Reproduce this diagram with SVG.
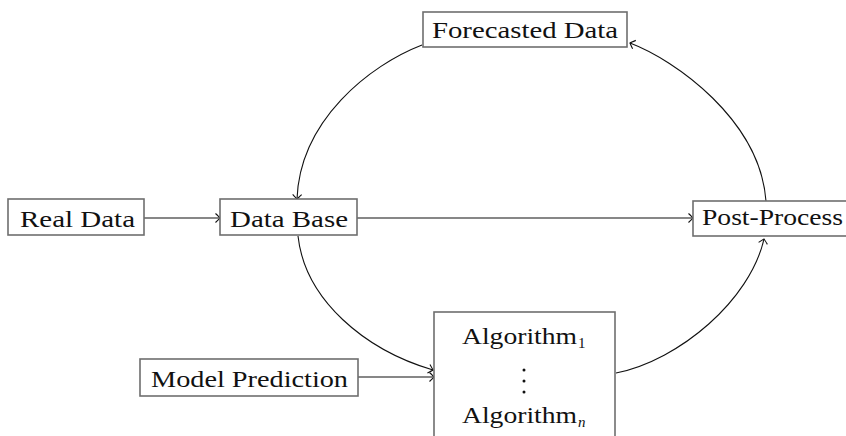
<svg xmlns="http://www.w3.org/2000/svg" width="846" height="436" viewBox="0 0 846 436">
<defs>
<style>
.box{fill:#fff;stroke:#6e6e6e;stroke-width:1.6}
.lbl{font-family:"Liberation Serif","Times New Roman",serif;font-size:24px;fill:#111}
.sub{font-family:"Liberation Serif","Times New Roman",serif;font-size:15px;fill:#111}
.edge{fill:none;stroke:#111;stroke-width:1.1;marker-end:url(#to)}
</style>
<marker id="to" markerUnits="userSpaceOnUse" markerWidth="12" markerHeight="12" viewBox="-6 -6 12 12" refX="0" refY="0" orient="auto">
<path d="M-4.5,-4.5 Q-0.8,-1 0,0 Q-0.8,1 -4.5,4.5" fill="none" stroke="#111" stroke-width="1.1"/>
</marker>
</defs>
<g id="connectors">
<line class="edge" x1="144" y1="218" x2="220" y2="218"/>
<line class="edge" x1="357" y1="218" x2="693" y2="218"/>
<line class="edge" x1="358" y1="377" x2="434" y2="377"/>
<path class="edge" d="M422,45 C370,65 300,120 297,199"/>
<path class="edge" d="M766,201 C760,120 675,60 630,43"/>
<path class="edge" d="M298,236 C305,300 365,350 433,370"/>
<path class="edge" d="M616,373 C680,360 750,300 764,239"/>
</g>
<g id="real-data">
<rect class="box" x="8" y="199" width="136" height="36"/>
<text class="lbl" x="20" y="227" textLength="115" lengthAdjust="spacingAndGlyphs">Real Data</text>
</g>
<g id="data-base">
<rect class="box" x="220" y="199" width="137" height="36"/>
<text class="lbl" x="230" y="227" textLength="118" lengthAdjust="spacingAndGlyphs">Data Base</text>
</g>
<g id="forecasted-data">
<rect class="box" x="423" y="12" width="204" height="35"/>
<text class="lbl" x="432" y="38" textLength="186" lengthAdjust="spacingAndGlyphs">Forecasted Data</text>
</g>
<g id="post-process">
<rect class="box" x="693" y="201" width="160" height="35"/>
<text class="lbl" x="702" y="225" textLength="141" lengthAdjust="spacingAndGlyphs">Post-Process</text>
</g>
<g id="model-prediction">
<rect class="box" x="140" y="359" width="218" height="37"/>
<text class="lbl" x="151" y="387" textLength="197" lengthAdjust="spacingAndGlyphs">Model Prediction</text>
</g>
<g id="algorithms">
<rect class="box" x="434" y="312" width="181" height="140"/>
<text class="lbl" x="462" y="344" textLength="115" lengthAdjust="spacingAndGlyphs">Algorithm</text>
<text class="sub" x="578" y="348">1</text>
<circle cx="524" cy="370" r="1.5" fill="#111"/>
<circle cx="524" cy="381" r="1.5" fill="#111"/>
<circle cx="524" cy="392" r="1.5" fill="#111"/>
<text class="lbl" x="462" y="423" textLength="115" lengthAdjust="spacingAndGlyphs">Algorithm</text>
<text class="sub" x="578" y="427" font-style="italic">n</text>
</g>
</svg>
